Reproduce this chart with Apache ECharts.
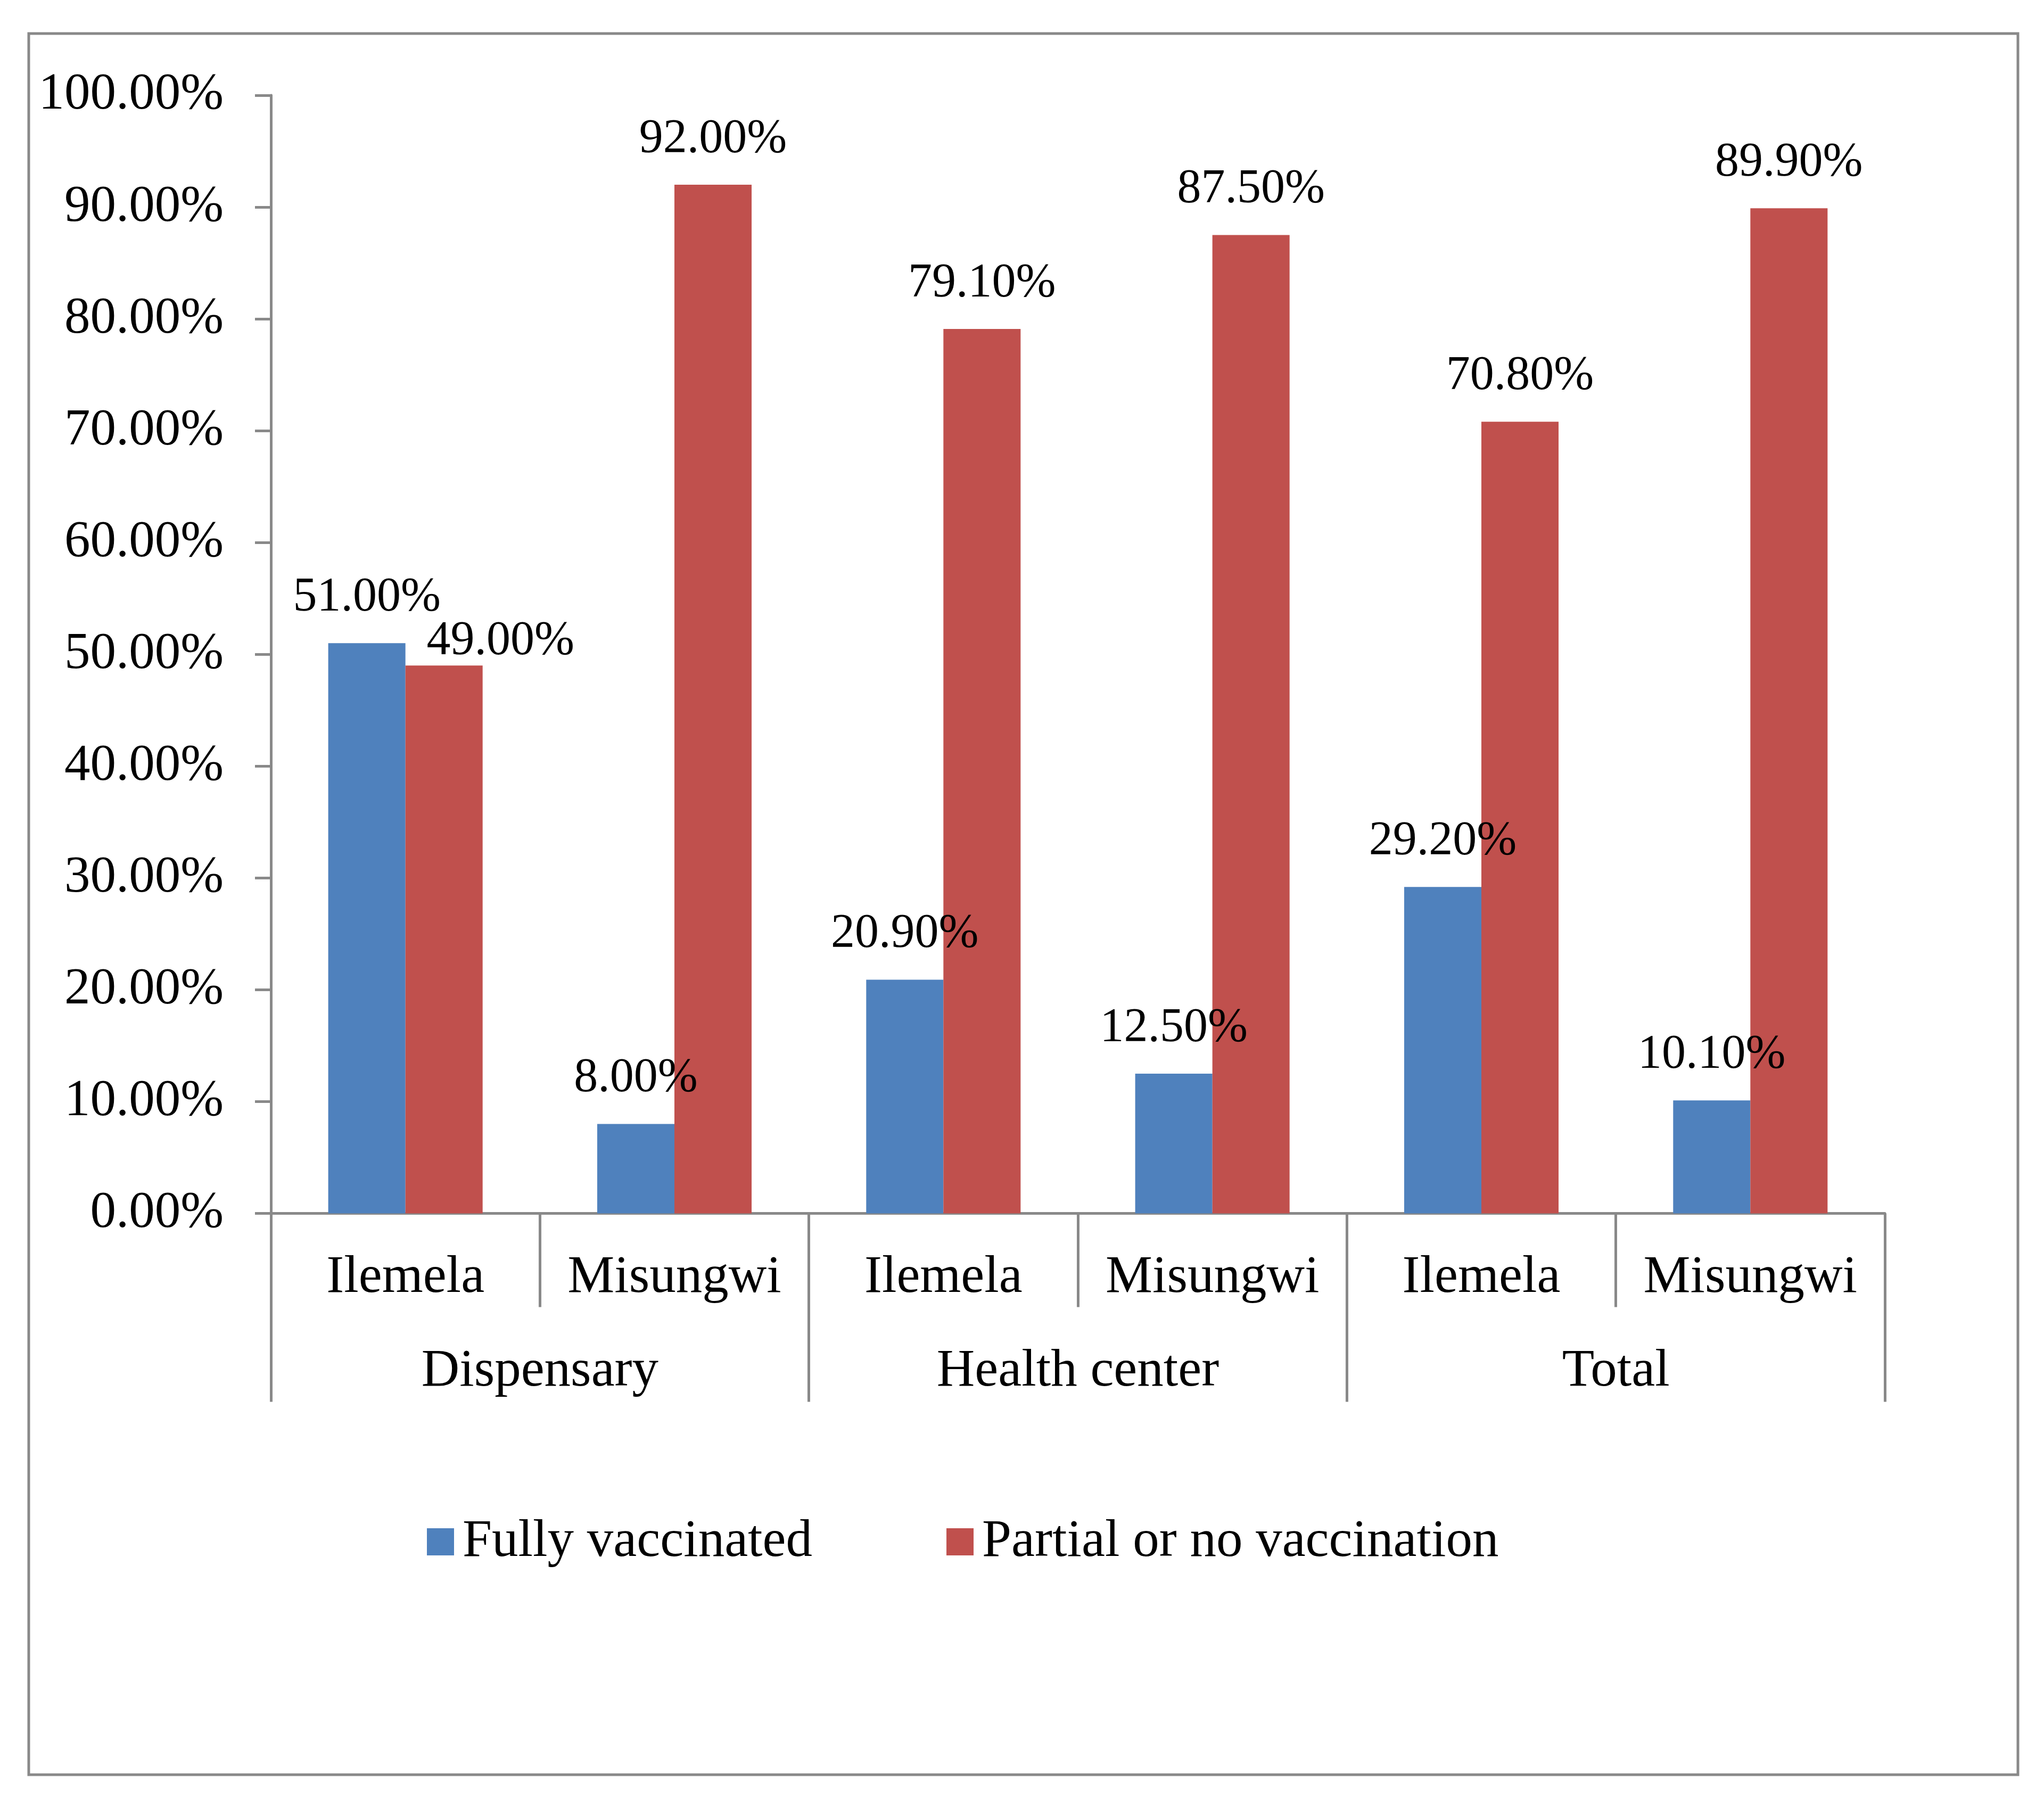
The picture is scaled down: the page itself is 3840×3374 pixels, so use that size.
<!DOCTYPE html>
<html>
<head>
<meta charset="utf-8">
<script src="https://cdn.jsdelivr.net/npm/echarts@6/dist/echarts.min.js"></script>
<style>
html,body{margin:0;padding:0;background:#fff;}
#chart{width:3840px;height:3374px;}
</style>
</head>
<body>
<div id="chart"></div>
<script>
const categories = ['Ilemela', 'Misungwi', 'Ilemela', 'Misungwi', 'Ilemela', 'Misungwi'];
const groups = ['Dispensary', 'Health center', 'Total'];
const seriesNames = ['Fully vaccinated', 'Partial or no vaccination'];
const fullyVaccinated = [51.0, 8.0, 20.9, 12.5, 29.2, 10.1];
const partialOrNone = [49.0, 92.0, 79.1, 87.5, 70.8, 89.9];

const FONT = 'Liberation Serif, Times New Roman, serif';
const GRAY = '#898989';
const pct = v => Number(v).toFixed(2) + '%';

const partialData = partialOrNone.map((v, i) =>
  i === 0 ? { value: v, label: { offset: [106, 40] } } : v
);

const chart = echarts.init(document.getElementById('chart'), null, { renderer: 'canvas' });
chart.setOption({
  backgroundColor: '#ffffff',
  animation: false,
  graphic: [{
    type: 'rect',
    shape: { x: 54, y: 63, width: 3737, height: 3271 },
    style: { fill: null, stroke: GRAY, lineWidth: 5 },
    silent: true
  }],
  legend: {
    left: 797,
    top: 2842,
    itemWidth: 51,
    itemHeight: 51,
    itemGap: 252,
    icon: 'rect',
    textStyle: { fontFamily: FONT, fontSize: 99, color: '#000', padding: [0, 0, 0, 11] },
    data: seriesNames
  },
  grid: { left: 509, top: 179, width: 3032, height: 2100.5, containLabel: false },
  xAxis: [{
    type: 'category',
    data: categories,
    axisLine: { show: true, lineStyle: { color: GRAY, width: 5 } },
    axisTick: { show: true, length: 176, lineStyle: { color: GRAY, width: 5 } },
    axisLabel: { margin: 72, fontFamily: FONT, fontSize: 99, color: '#000', interval: 0 },
    splitLine: { show: false }
  }, {
    type: 'category',
    data: groups,
    position: 'bottom',
    gridIndex: 0,
    axisLine: { show: false },
    axisTick: { show: true, length: 354, lineStyle: { color: GRAY, width: 5 } },
    axisLabel: { margin: 248, fontFamily: FONT, fontSize: 99, color: '#000', interval: 0 },
    splitLine: { show: false }
  }],
  yAxis: {
    type: 'value',
    min: 0,
    max: 100,
    interval: 10,
    axisLine: { show: true, lineStyle: { color: GRAY, width: 5 } },
    axisTick: { show: true, length: 30, lineStyle: { color: GRAY, width: 5 } },
    axisLabel: { margin: 89, fontFamily: FONT, fontSize: 97, color: '#000', formatter: pct },
    splitLine: { show: false }
  },
  series: [{
    name: seriesNames[0],
    type: 'bar',
    xAxisIndex: 0,
    data: fullyVaccinated,
    barGap: '0%',
    barCategoryGap: '42.6%',
    itemStyle: { color: '#4F81BD' },
    label: { show: true, position: 'top', distance: 40, fontFamily: FONT, fontSize: 90, color: '#000', formatter: p => pct(p.value) }
  }, {
    name: seriesNames[1],
    type: 'bar',
    xAxisIndex: 0,
    data: partialData,
    barGap: '0%',
    barCategoryGap: '42.6%',
    itemStyle: { color: '#C0504D' },
    label: { show: true, position: 'top', distance: 40, fontFamily: FONT, fontSize: 90, color: '#000', formatter: p => pct(p.value) }
  }]
});
</script>
</body>
</html>
